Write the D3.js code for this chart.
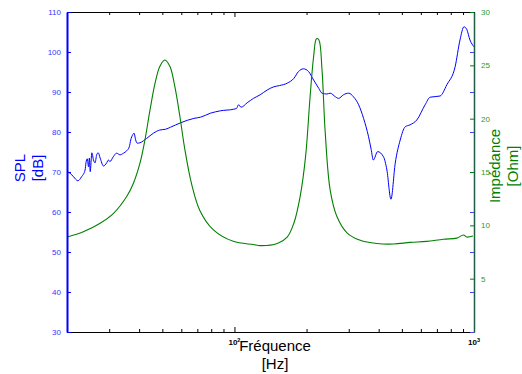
<html>
<script src="https://d3js.org/d3.v7.min.js"></script>
<style>
body { margin: 0; background: #fff; }
text { font-family: "Liberation Sans", Arial, sans-serif; }
</style>
<body>
<svg id="chart" width="522" height="374"></svg>
<script>
// SPL measurement (blue, left axis)
const splFreq = [20, 20.6, 21.3, 22.2, 23.0, 23.8, 24.0, 24.3, 24.6, 24.8, 25.0, 25.4, 25.8, 26.2, 26.6, 27.0,
  27.5, 28.4, 29.3, 29.8, 30.2, 31.2, 32.2, 33.3, 34.4, 35.5, 36.4, 36.9, 37.6, 38.1, 38.7, 39.3, 40.3,
  43.0, 45.9, 48.8, 51.7, 54.1, 59.6, 67.7, 72.2, 79.4, 87.4, 99.3, 102, 104, 106.6, 113, 120, 128, 137,
  146, 154, 166, 177, 185, 194, 204, 214, 225, 232, 243, 251, 264, 272, 285, 300, 314, 330, 346, 363,
  372, 380, 396, 419, 433, 450, 469, 492, 516, 541, 577, 625, 656, 722, 770, 834, 874, 908, 932, 962, 1000];
const splDb = [70.1, 69.7, 68.8, 67.8, 68.8, 70.5, 72.3, 73.3, 71.3, 73.5, 70.1, 74.8, 73.0, 72.3, 74.3, 74.8,
  73.5, 71.5, 72.3, 73.0, 72.6, 73.8, 74.7, 74.3, 74.7, 75.3, 76.3, 78.0, 79.3, 79.7, 78.0, 77.2, 77.3,
  78.4, 79.7, 80.5, 80.7, 81.2, 82.3, 83.4, 83.7, 84.7, 85.3, 85.7, 85.9, 86.8, 86.2, 87.3, 88.4, 89.3, 90.5,
  91.3, 91.6, 92.2, 93.4, 95.1, 95.8, 95.1, 93.0, 90.9, 89.7, 89.5, 89.7, 88.8, 88.4, 89.3, 89.7, 88.8, 86.8, 83.4, 78.8,
  75.7, 73.0, 75.1, 73.8, 70.5, 63.2, 72.2, 78.0, 81.3, 81.8, 83.0, 86.8, 88.7, 89.0, 91.8, 96.3, 103.0, 106.3, 105.7, 103.0, 101.3];

// impedance (green, right axis)
const zFreq = [20, 23.4, 27.5, 31.2, 35.5, 37.8, 40.3, 42.3, 44.4, 46.6, 48.8, 51.2, 53.8, 56.4, 59.2, 62.1,
  66.2, 71.7, 81.5, 98.8, 120, 128, 151, 166, 177, 188, 198, 207, 214, 220, 225, 232, 239, 251, 268, 295,
  335, 393, 461, 541, 635, 745, 847, 903, 932, 990];
const zOhm = [8.9, 9.4, 10.2, 11.1, 12.7, 13.9, 15.8, 18.0, 20.8, 23.3, 24.9, 25.5, 24.9, 23.0, 20.2, 17.1,
  13.9, 11.4, 9.6, 8.5, 8.2, 8.1, 8.3, 8.9, 10.2, 12.7, 16.4, 22.1, 25.8, 27.5, 27.4, 24.6, 18.9, 13.3, 10.8, 9.3,
  8.6, 8.3, 8.25, 8.4, 8.5, 8.7, 8.8, 9.1, 8.9, 9.0];

const splTicks = [30, 40, 50, 60, 70, 80, 90, 100, 110];
const zTicks = [5, 10, 15, 20, 25, 30];
const freqMajor = [100, 1000];
const freqMinor = [30, 40, 50, 60, 70, 80, 90, 200, 300, 400, 500, 600, 700, 800, 900];

const pLeft = 67, pRight = 474, pTop = 12, pBottom = 332;
const blue = "#0000ff", green = "#008000";

const x = d3.scaleLog().domain([20, 1000]).range([pLeft, pRight]);
const y1 = d3.scaleLinear().domain([30, 110]).range([pBottom, pTop]);
const y2 = d3.scaleLinear().domain([0, 30]).range([pBottom, pTop]);

const svg = d3.select("#chart");

svg.append("clipPath").attr("id", "plot")
  .append("rect").attr("x", pLeft).attr("y", pTop).attr("width", pRight - pLeft).attr("height", pBottom - pTop);

// SPL line
const splLine = d3.line()
  .x((d, i) => x(splFreq[i]))
  .y(d => y1(d))
  .curve(d3.curveMonotoneX);
svg.append("path")
  .attr("d", splLine(splDb))
  .attr("fill", "none").attr("stroke", blue).attr("stroke-width", 1)
  .attr("clip-path", "url(#plot)");

// impedance line
const zLine = d3.line()
  .x((d, i) => x(zFreq[i]))
  .y(d => y2(d))
  .curve(d3.curveCatmullRom.alpha(0.5));
svg.append("path")
  .attr("d", zLine(zOhm))
  .attr("fill", "none").attr("stroke", green).attr("stroke-width", 1.1)
  .attr("clip-path", "url(#plot)");

// bottom x axis (ticks inward)
const xb = svg.append("g").attr("transform", "translate(0," + pBottom + ")")
  .call(d3.axisBottom(x).tickValues(freqMajor).tickSizeInner(-5).tickSizeOuter(0).tickFormat(""));
xb.select(".domain").attr("stroke", "#000");
svg.append("g").attr("transform", "translate(0," + pBottom + ")")
  .call(d3.axisBottom(x).tickValues(freqMinor).tickSizeInner(-3).tickSizeOuter(0).tickFormat(""))
  .select(".domain").remove();

// top border with ticks
svg.append("g").attr("transform", "translate(0," + pTop + ")")
  .call(d3.axisTop(x).tickValues(freqMajor).tickSizeInner(-5).tickSizeOuter(0).tickFormat(""));
svg.append("g").attr("transform", "translate(0," + pTop + ")")
  .call(d3.axisTop(x).tickValues(freqMinor).tickSizeInner(-3).tickSizeOuter(0).tickFormat(""))
  .select(".domain").remove();

// x tick labels 10^2, 10^3
svg.append("g").selectAll("text")
  .data(freqMajor).enter().append("text")
  .attr("x", d => x(d))
  .attr("y", 345)
  .attr("text-anchor", "middle")
  .style("font-size", "8px").style("font-weight", "bold")
  .each(function(d) {
    const t = d3.select(this);
    t.append("tspan").text("10");
    t.append("tspan").attr("dy", -3).style("font-size", "5.5px").text(Math.round(Math.log10(d)));
  });

// left SPL axis
const yl = svg.append("g").attr("transform", "translate(" + pLeft + ",0)")
  .call(d3.axisLeft(y1).tickValues(splTicks).tickSizeInner(-4).tickSizeOuter(0).tickPadding(6));
yl.select(".domain").attr("stroke", blue).attr("stroke-width", 2);
yl.selectAll(".tick line").attr("stroke", blue);
yl.selectAll(".tick text").attr("fill", "#3535ff").style("font-size", "8px")
  .style("font-family", "Liberation Sans, Arial, sans-serif");

// right side: SPL ticks (blue) + impedance axis (green)
const yrb = svg.append("g").attr("transform", "translate(" + pRight + ",0)")
  .call(d3.axisRight(y1).tickValues(splTicks).tickSizeInner(-4).tickSizeOuter(0).tickFormat(""));
yrb.select(".domain").remove();
yrb.selectAll(".tick line").attr("stroke", "#4444ff");

const yr = svg.append("g").attr("transform", "translate(" + pRight + ",0)")
  .call(d3.axisRight(y2).tickValues(zTicks).tickSizeInner(-4).tickSizeOuter(0).tickPadding(7));
yr.select(".domain").attr("stroke", "#1f5c48").attr("stroke-width", 1.5);
yr.selectAll(".tick line").attr("stroke", green);
yr.selectAll(".tick text").attr("fill", "#2a9a2a").style("font-size", "8px")
  .style("font-family", "Liberation Sans, Arial, sans-serif");

// axis labels
const splLab = svg.append("text")
  .attr("transform", "translate(25,168) rotate(-90)")
  .attr("text-anchor", "middle").attr("fill", blue).style("font-size", "15px");
splLab.append("tspan").attr("x", 0).attr("y", 0).text("SPL");
splLab.append("tspan").attr("x", 0).attr("y", 18).text("[dB]");

const zLab = svg.append("text")
  .attr("transform", "translate(500,166) rotate(-90)")
  .attr("text-anchor", "middle").attr("fill", green).style("font-size", "15px");
zLab.append("tspan").attr("x", 0).attr("y", 0).text("Impédance");
zLab.append("tspan").attr("x", 0).attr("y", 18).text("[Ohm]");

const xLab = svg.append("text")
  .attr("text-anchor", "middle").attr("fill", "#000").style("font-size", "15px");
xLab.append("tspan").attr("x", 275).attr("y", 351).text("Fréquence");
xLab.append("tspan").attr("x", 275).attr("y", 369).text("[Hz]");
</script>
</body>
</html>
